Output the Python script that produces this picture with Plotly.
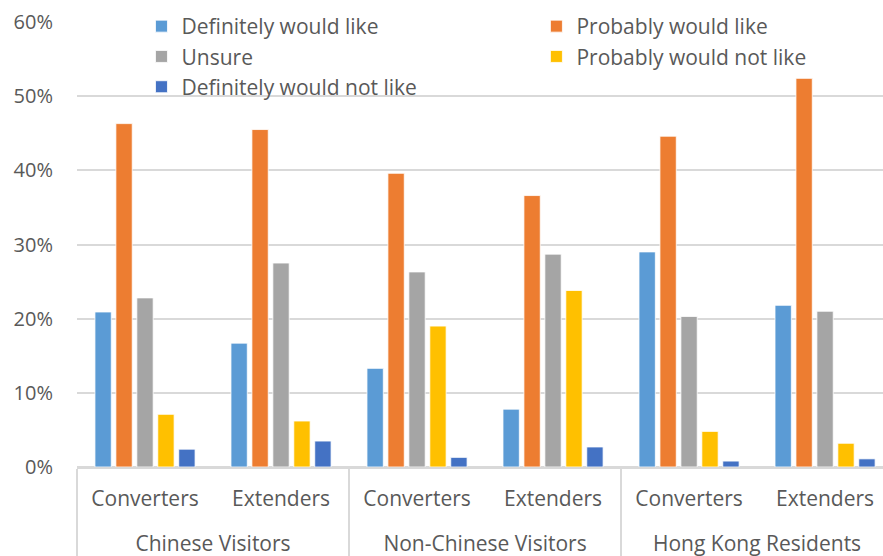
import plotly.graph_objects as go

# Respondent segments (outer) and visitor types (inner)
segments = ["Chinese Visitors", "Chinese Visitors",
            "Non-Chinese Visitors", "Non-Chinese Visitors",
            "Hong Kong Residents", "Hong Kong Residents"]
visitor_types = ["Converters", "Extenders"] * 3

# Share of respondents per answer (%)
definitely_like = [20.9, 16.7, 13.3, 7.8, 29.0, 21.8]
probably_like = [46.3, 45.5, 39.6, 36.6, 44.6, 52.4]
unsure = [22.8, 27.5, 26.3, 28.7, 20.3, 21.0]
probably_not_like = [7.1, 6.2, 19.0, 23.8, 4.8, 3.2]
definitely_not_like = [2.4, 3.5, 1.3, 2.7, 0.8, 1.1]

# (name, values, colour, legend column)
series = [
    ("Definitely would like", definitely_like, "#5B9BD5", "legend"),
    ("Probably would like", probably_like, "#ED7D31", "legend2"),
    ("Unsure", unsure, "#A5A5A5", "legend"),
    ("Probably would not like", probably_not_like, "#FFC000", "legend2"),
    ("Definitely would not like", definitely_not_like, "#4472C4", "legend"),
]

FONT = "Open Sans"
TXT = "#595959"
GRID = "#D9D9D9"

# outer labels sit one line lower than the inner ones
segment_labels = ["<br>" + s for s in segments]

fig = go.Figure()
for name, vals, color, leg in series:
    fig.add_trace(go.Bar(
        name=name,
        x=[segment_labels, visitor_types],
        y=[v / 100 for v in vals],
        marker=dict(color=color, line=dict(color="white", width=0.8)),
        legend=leg,
    ))

legend_style = dict(
    orientation="v", xanchor="left", y=1.036, yanchor="top",
    font=dict(family=FONT, size=21, color=TXT),
    bgcolor="rgba(0,0,0,0)", itemclick=False, itemdoubleclick=False,
)

fig.update_layout(
    width=883, height=556,
    margin=dict(l=77, r=0, t=22, b=89),
    paper_bgcolor="white", plot_bgcolor="white",
    barmode="group", bargap=0.23, bargroupgap=0.22,
    font=dict(family=FONT, size=21, color=TXT),
    legend=dict(x=0.08, **legend_style),
    legend2=dict(x=0.570, **legend_style),
)
fig.update_yaxes(
    range=[0, 0.6], dtick=0.1, tickformat=".0%",
    showgrid=True, gridcolor=GRID, gridwidth=1.5,
    zeroline=True, zerolinecolor=GRID, zerolinewidth=1.5,
    showline=False, ticks="", ticklabelstandoff=23,
    tickfont=dict(family=FONT, size=20, color=TXT),
)
fig.update_xaxes(
    type="multicategory", range=[-0.5, 5.426],
    showline=True, linecolor=GRID, linewidth=1.5,
    dividercolor=GRID, dividerwidth=1.5,
    showdividers=True, ticks="", ticklabelstandoff=12,
    tickfont=dict(family=FONT, size=21, color=TXT),
)

fig.write_html("out.html")
